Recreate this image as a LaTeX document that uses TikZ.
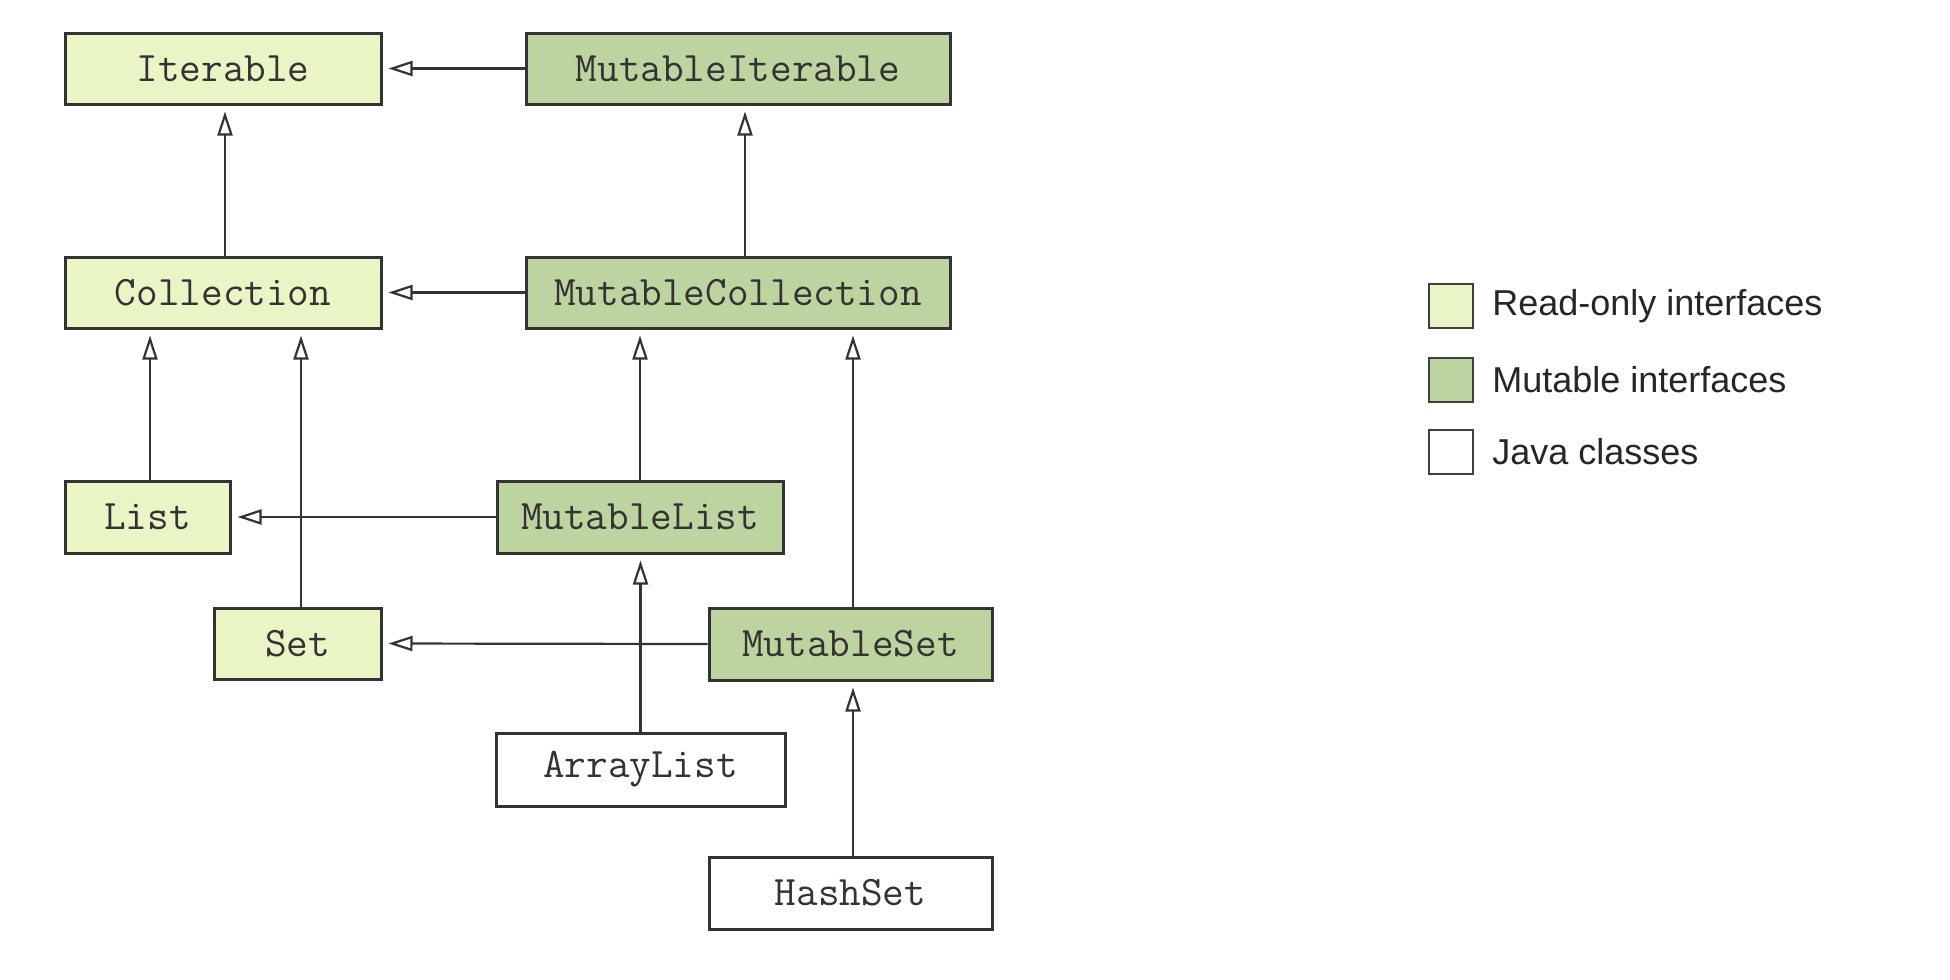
\documentclass[tikz,border=0pt]{standalone}
\usepackage{fontspec}
\setmainfont{Liberation Sans}
\newfontfamily\codefont{Latin Modern Mono}
\usetikzlibrary{arrows.meta}
\definecolor{rofill}{HTML}{EAF5C5}
\definecolor{mufill}{HTML}{BED4A0}
\definecolor{edge}{HTML}{333333}
\begin{document}
\begin{tikzpicture}[x=0.5pt,y=-0.5pt,
  cls/.style={draw=edge, line width=1.5pt, minimum height=35.5pt, inner sep=0pt,
    font=\codefont\fontsize{21pt}{22pt}\selectfont, text=black!80},
  ro/.style={cls, fill=rofill},
  mu/.style={cls, fill=mufill},
  jc/.style={cls, fill=white},
  inh/.style={draw=edge, line width=1.1pt, -{Triangle[open, length=12pt, width=7.5pt, fill=white]}, shorten >=3pt},
  legbox/.style={draw=black!75, line width=1.3pt, minimum width=22pt, minimum height=22pt, inner sep=0pt},
  legtext/.style={anchor=west, inner sep=0pt, font=\fontsize{18pt}{20pt}\selectfont, text=black!85}]
\useasboundingbox (0,0) rectangle (1950,980);
% nodes
\node[ro, minimum width=158pt] (Iterable) at (223,68.5) {Iterable};
\node[mu, minimum width=212pt] (MutableIterable) at (738,68.5) {MutableIterable};
\node[ro, minimum width=158pt] (Collection) at (223,292.5) {Collection};
\node[mu, minimum width=212pt] (MutableCollection) at (738,292.5) {MutableCollection};
\node[ro, minimum width=82.5pt, minimum height=36pt] (List) at (147.5,517) {List};
\node[mu, minimum width=143pt, minimum height=36pt] (MutableList) at (640,517) {MutableList};
\node[ro, minimum width=83.5pt] (Set) at (297.5,643.5) {Set};
\node[mu, minimum width=141.5pt, minimum height=36pt] (MutableSet) at (850.5,644) {MutableSet};
\node[jc, minimum width=144.5pt, minimum height=36.5pt] (ArrayList) at (640.5,769.5) {ArrayList};
\node[jc, minimum width=141.5pt, minimum height=36pt] (HashSet) at (850.5,893) {HashSet};
% connectors
\draw[inh] (MutableIterable.west) -- (Iterable.east);
\draw[inh] ([xshift=1pt]Collection.north) -- ([xshift=1pt]Iterable.south);
\draw[inh] ([xshift=3.5pt]MutableCollection.north) -- ([xshift=3.5pt]MutableIterable.south);
\draw[inh] (MutableCollection.west) -- (Collection.east);
\draw[inh] ([xshift=1.25pt]List.north) -- ([xshift=1.25pt]List.north |- Collection.south);
\draw[inh] ([xshift=1.75pt]Set.north) -- ([xshift=1.75pt]Set.north |- Collection.south);
\draw[inh] (MutableList.west) -- (List.east);
\draw[inh] (MutableList.north) -- (MutableList.north |- MutableCollection.south);
\draw[inh] ([xshift=1.25pt]MutableSet.north) -- ([xshift=1.25pt]MutableSet.north |- MutableCollection.south);
\draw[inh] (MutableSet.west) -- (Set.east);
\draw[inh] (ArrayList.north) -- (ArrayList.north |- MutableList.south);
\draw[inh] ([xshift=1.25pt]HashSet.north) -- ([xshift=1.25pt]MutableSet.south);
% legend
\node[legbox, fill=rofill] (lg1) at (1451,306) {};
\node[legbox, fill=mufill] (lg2) at (1451,380) {};
\node[legbox, fill=white] (lg3) at (1451,452) {};
\node[legtext] (lt1) at (1492,306) {Read-only interfaces};
\node[legtext] (lt2) at (1492,380) {Mutable interfaces};
\node[legtext] (lt3) at (1492,452) {Java classes};
\end{tikzpicture}
\end{document}
